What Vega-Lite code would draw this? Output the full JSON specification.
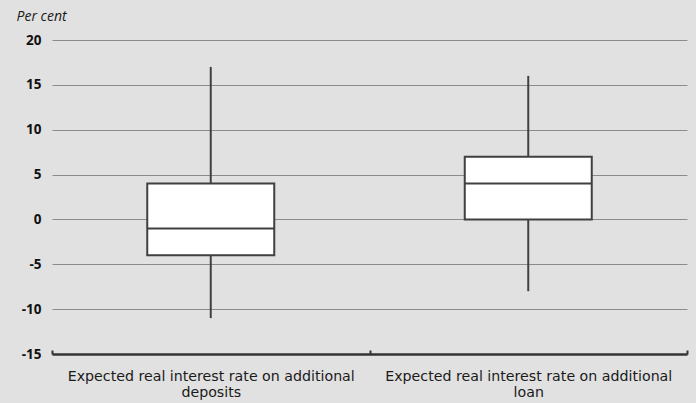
{
  "$schema": "https://vega.github.io/schema/vega-lite/v6.json",
  "width": 635,
  "height": 314,
  "autosize": "none",
  "padding": {"left": 52, "top": 40, "right": 9, "bottom": 49},
  "background": "#e1e1e1",
  "config": {
    "view": {"stroke": null},
    "font": "Open Sans"
  },
  "data": {
    "values": [
      {"measure": "Expected real interest rate on additional deposits", "min": -11, "q1": -4, "median": -1, "q3": 4, "max": 17},
      {"measure": "Expected real interest rate on additional loan", "min": -8, "q1": 0, "median": 4, "q3": 7, "max": 16}
    ]
  },
  "encoding": {
    "x": {
      "field": "measure",
      "type": "nominal",
      "sort": null,
      "scale": {"paddingInner": 0, "paddingOuter": 0},
      "axis": {
        "title": null,
        "labelAngle": 0,
        "labelFont": "DejaVu Sans",
        "labelFontSize": 14.2,
        "labelColor": "#1a1a1a",
        "labelPadding": 19,
        "labelLineHeight": 16,
        "labelLimit": 400,
        "labelExpr": "[slice(datum.label, 0, lastindexof(datum.label, ' ')), slice(datum.label, lastindexof(datum.label, ' ') + 1)]",
        "domainColor": "#333333",
        "domainWidth": 2.5,
        "tickBand": "extent",
        "tickColor": "#333333",
        "tickWidth": 2,
        "tickSize": -4,
        "grid": false
      }
    }
  },
  "layer": [
    {
      "mark": {"type": "rule", "color": "#404040", "strokeWidth": 2},
      "encoding": {
        "y": {
          "field": "min",
          "type": "quantitative",
          "scale": {"domain": [-15, 20], "nice": false, "zero": false},
          "axis": {
            "values": [-15, -10, -5, 0, 5, 10, 15, 20],
            "labelExpr": "'' + datum.value",
            "title": "Per cent",
            "titleAngle": 0,
            "titleAlign": "left",
            "titleBaseline": "middle",
            "titleX": -36,
            "titleY": -24,
            "titleFontStyle": "italic",
            "titleFontWeight": "normal",
            "titleFontSize": 14,
            "titleColor": "#1a1a1a",
            "labelFontWeight": "bold",
            "labelFontSize": 13.5,
            "labelColor": "#111111",
            "labelPadding": 11,
            "domain": false,
            "ticks": false,
            "grid": true,
            "gridColor": "#8c8c8c",
            "gridWidth": 1
          }
        },
        "y2": {"field": "max"}
      }
    },
    {
      "mark": {"type": "bar", "fill": "white", "stroke": "#404040", "strokeWidth": 2, "width": 127},
      "encoding": {
        "y": {"field": "q1", "type": "quantitative"},
        "y2": {"field": "q3"}
      }
    },
    {
      "mark": {"type": "tick", "color": "#404040", "opacity": 1, "thickness": 2, "size": 127},
      "encoding": {
        "y": {"field": "median", "type": "quantitative"}
      }
    }
  ]
}
